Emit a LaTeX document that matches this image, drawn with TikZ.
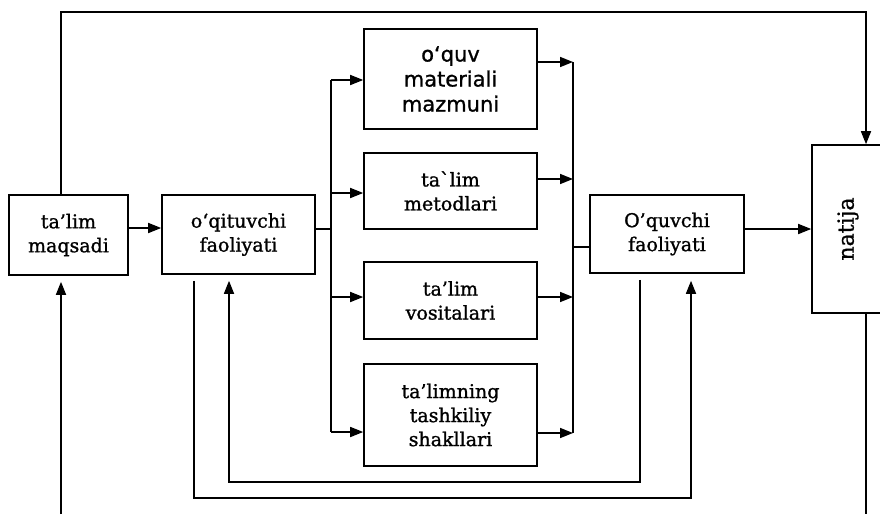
\documentclass[tikz,border=0pt]{standalone}
\usepackage{fontspec}
\setmainfont{DejaVu Serif}[FakeBold=1.2]
\newfontfamily\gothic{DejaVu Sans}[FakeBold=1.0]
\usetikzlibrary{positioning,calc,arrows.meta}
\tikzset{
  blok/.style={draw, line width=1.6pt, align=center, inner sep=2pt, font=\fontsize{19}{24}\selectfont},
  oq/.style={-{Triangle[length=13pt,width=10pt]}, line width=1.6pt},
  chiz/.style={line width=1.6pt}
}

\begin{document}
\begin{tikzpicture}[x=1pt, y=-1pt]
        \useasboundingbox (0,0) rectangle (880,514);

        \node[blok, minimum width=119pt, minimum height=80pt] (maqsad) at (68.5,235) {ta'lim\\maqsadi};
        \node[blok, minimum width=153pt, minimum height=79pt] (oqituvchi) at (238.5,234.5) {o‘qituvchi\\faoliyati};

        \node[blok, minimum width=173pt, minimum height=100pt, font=\gothic\fontsize{21}{25}\selectfont] (mazmun) at (450.5,79) {o‘quv\\materiali\\mazmuni};
        \node[blok, minimum width=173pt, minimum height=76pt] (metod) at (450.5,191) {ta\textasciigrave lim\\metodlari};
        \node[blok, minimum width=173pt, minimum height=77pt] (vosita) at (450.5,300.5) {ta'lim\\vositalari};
        \node[blok, minimum width=173pt, minimum height=102pt] (shakl) at (450.5,415) {ta'limning\\tashkiliy\\shakllari};

        \node[blok, minimum width=154pt, minimum height=78pt] (oquvchi) at (667,234) {O'quvchi\\faoliyati};
        \node[blok, minimum width=72pt, minimum height=168pt, font=\fontsize{22}{26}\selectfont] (natija) at (848,229) {\rotatebox{90}{natija}};

        % tarmoqlar
        \coordinate (ayrA) at (331,80);
        \coordinate (ayrB) at (331,432);
        \coordinate (yigA) at (573,62);
        \coordinate (yigB) at (573,433);

        \draw[oq] ([yshift=7pt]maqsad.east) -- ([yshift=7pt]maqsad.east -| oqituvchi.west);
        \draw[chiz] ([yshift=5.5pt]oqituvchi.east) -- ([yshift=5.5pt]oqituvchi.east -| ayrA);
        \draw[chiz] (ayrA) -- (ayrB);
        \foreach \b/\y in {mazmun/80, metod/193, vosita/297, shakl/432}
          \draw[oq] (331,\y) -- (\b.west |- 0,\y);

        \foreach \b/\y in {mazmun/62, metod/179, vosita/297, shakl/433}
          \draw[oq] (\b.east |- 0,\y) -- (573,\y);
        \draw[chiz] (yigA) -- (yigB);
        \draw[chiz] (573,247) -- (oquvchi.west |- 0,247);
        \draw[oq] ([yshift=5pt]oquvchi.east) -- ([yshift=5pt]oquvchi.east -| natija.west);

        % tepadagi chiziq
        \coordinate (ustL) at (61,12);
        \coordinate (ustR) at (866,12);
        \draw[oq] (maqsad.north -| ustL) -- (ustL) -- (ustR) -- (natija.north -| ustR);

        % pastki chiziqlar
        \coordinate (pastA) at (61,514);
        \coordinate (pastB) at (866,514);
        \draw[oq, shorten >=6pt] (pastA) -- (maqsad.south -| pastA);
        \draw[chiz] (natija.south -| pastB) -- (pastB);

        \coordinate (tA) at (194,498);
        \coordinate (tB) at (691,498);
        \draw[oq, shorten <=6pt, shorten >=7pt] (oqituvchi.south -| tA) -- (tA) -- (tB) -- (oquvchi.south -| tB);

        \coordinate (iA) at (640,482);
        \coordinate (iB) at (229,482);
        \draw[oq, shorten <=6pt, shorten >=6pt] (oquvchi.south -| iA) -- (iA) -- (iB) -- (oqituvchi.south -| iB);
\end{tikzpicture}
\end{document}
